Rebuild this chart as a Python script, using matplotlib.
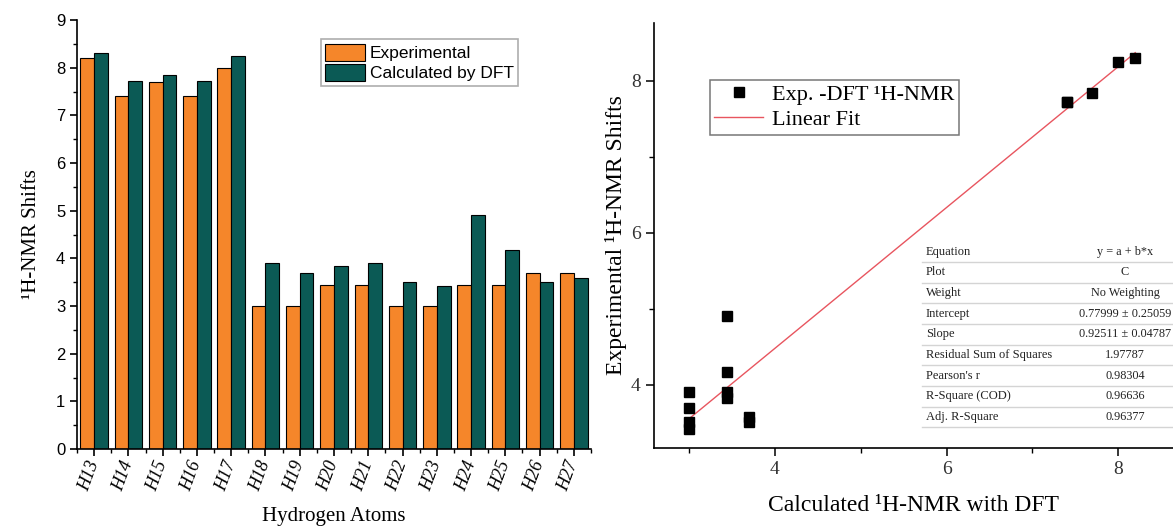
import matplotlib
matplotlib.use("Agg")
import matplotlib.pyplot as plt
import numpy as np
from matplotlib.ticker import MultipleLocator, FixedLocator

# ---- data ----
atoms = ["H13", "H14", "H15", "H16", "H17", "H18", "H19", "H20",
         "H21", "H22", "H23", "H24", "H25", "H26", "H27"]
experimental = [8.20, 7.40, 7.70, 7.40, 8.00, 3.00, 3.00, 3.44,
                3.44, 3.00, 3.00, 3.44, 3.44, 3.70, 3.70]
calculated_dft = [8.30, 7.72, 7.84, 7.72, 8.24, 3.90, 3.70, 3.83,
                  3.90, 3.51, 3.42, 4.90, 4.17, 3.51, 3.58]

fit_intercept = 0.77999
fit_slope = 0.92511

table_names = ["Equation", "Plot", "Weight", "Intercept", "Slope",
               "Residual Sum of Squares", "Pearson's r", "R-Square (COD)",
               "Adj. R-Square"]
table_values = ["y = a + b*x", "C", "No Weighting", "0.77999 \u00b1 0.25059",
                "0.92511 \u00b1 0.04787", "1.97787", "0.98304", "0.96636",
                "0.96377"]

ORANGE = "#f5862a"
TEAL = "#0b5a55"
SERIF = "Liberation Serif"
SANS = "Liberation Sans"

W, H = 1173, 530
fig = plt.figure(figsize=(W / 100, H / 100), dpi=100)


def px_axes(left, top, right, bottom):
    return fig.add_axes([left / W, 1 - bottom / H, (right - left) / W, (bottom - top) / H])


# ---------------- left: grouped bars ----------------
ax1 = px_axes(77, 20, 591, 449)
x = np.arange(len(atoms))
ax1.bar(x - 0.2, experimental, width=0.4, color=ORANGE, edgecolor="black",
        linewidth=0.8, label="Experimental")
ax1.bar(x + 0.2, calculated_dft, width=0.4, color=TEAL, edgecolor="black",
        linewidth=0.8, label="Calculated by DFT")
ax1.set_xlim(-0.5, len(atoms) - 0.5)
ax1.set_ylim(0, 9)
ax1.spines[["top", "right"]].set_visible(False)
for s in ("left", "bottom"):
    ax1.spines[s].set_linewidth(1.2)
ax1.set_xticks(x)
ax1.set_xticklabels(atoms, rotation=70, ha="right", va="center",
                    rotation_mode="anchor", family=SERIF, style="italic", fontsize=13)
ax1.xaxis.set_minor_locator(FixedLocator(np.arange(-0.5, len(atoms), 1.0)))
ax1.yaxis.set_major_locator(MultipleLocator(1))
ax1.yaxis.set_minor_locator(MultipleLocator(0.5))
ax1.tick_params(which="major", direction="out", length=5, width=1.2)
ax1.tick_params(which="minor", direction="out", length=3, width=1.0)
ax1.tick_params(axis="x", which="major", pad=4)
for lab in ax1.get_yticklabels():
    lab.set_family(SANS)
    lab.set_fontsize(12)
ax1.set_ylabel("\u00b9H-NMR Shifts", family=SERIF, fontsize=15, labelpad=11)
ax1.set_xlabel("Hydrogen Atoms", family=SERIF, fontsize=15, labelpad=10)
leg1 = ax1.legend(loc="upper left", bbox_to_anchor=(0.474, 0.955),
                  prop={"family": SANS, "size": 12.5}, frameon=True, fancybox=False,
                  handlelength=2.3, handleheight=1.15, handletextpad=0.3,
                  labelspacing=0.15, borderpad=0.25, borderaxespad=0)
leg1.get_frame().set_edgecolor("#9a9a9a")
leg1.get_frame().set_linewidth(1.2)

# ---------------- right: scatter + linear fit ----------------
ax2 = px_axes(654, 22.7, 1173, 448)
ax2.set_xlim(2.59, 8.64)
ax2.set_ylim(3.17, 8.76)
ax2.plot(experimental, calculated_dft, "s", color="black", markersize=6.5,
         label="Exp. -DFT \u00b9H-NMR", zorder=3)
xf = np.array([min(experimental), max(experimental)])
ax2.plot(xf, fit_intercept + fit_slope * xf, color="#e8555f", linewidth=1.0,
         label="Linear Fit", zorder=2)
ax2.spines[["top", "right"]].set_visible(False)
for s in ("left", "bottom"):
    ax2.spines[s].set_linewidth(1.2)
ax2.xaxis.set_major_locator(MultipleLocator(2))
ax2.xaxis.set_minor_locator(MultipleLocator(1))
ax2.yaxis.set_major_locator(MultipleLocator(2))
ax2.yaxis.set_minor_locator(MultipleLocator(1))
ax2.tick_params(which="major", direction="out", length=6, width=1.1, labelsize=14)
ax2.tick_params(which="minor", direction="out", length=3.5, width=1.0)
for lab in ax2.get_xticklabels() + ax2.get_yticklabels():
    lab.set_family(SERIF)
    lab.set_color("#333333")
ax2.set_xlabel("Calculated \u00b9H-NMR with DFT", family=SERIF, fontsize=17, labelpad=12)
ax2.set_ylabel("Experimental \u00b9H-NMR Shifts", family=SERIF, fontsize=17, labelpad=3)
leg2 = ax2.legend(loc="upper left", bbox_to_anchor=(0.108, 0.865),
                  prop={"family": SERIF, "size": 16}, frameon=True, fancybox=False,
                  handlelength=2.2, handletextpad=0.4, labelspacing=0.2,
                  borderpad=0.2, borderaxespad=0)
leg2.get_frame().set_edgecolor("#555555")
leg2.get_frame().set_linewidth(1.1)

# results table drawn inside the right axes (pixel layout -> axes fraction)
def ax2_xy(px, py):
    return (px - 654) / (1173 - 654), (448 - py) / (448 - 22.7)

row_h = 20.7
for i, (name, val) in enumerate(zip(table_names, table_values)):
    cy = 251.5 + i * row_h
    tx, ty = ax2_xy(926, cy)
    ax2.text(tx, ty, name, transform=ax2.transAxes, family=SERIF, fontsize=9,
             color="#222222", ha="left", va="center", clip_on=False)
    vx, _ = ax2_xy(1125, cy)
    ax2.text(vx, ty, val, transform=ax2.transAxes, family=SERIF, fontsize=8.8,
             color="#222222", ha="center", va="center", clip_on=False)
    lx0, ly = ax2_xy(922, cy + row_h / 2)
    ax2.plot([lx0, 1.05], [ly, ly], transform=ax2.transAxes, color="#d4d4d4",
             linewidth=1.0, clip_on=False)

fig.savefig("out.png", dpi=100)
